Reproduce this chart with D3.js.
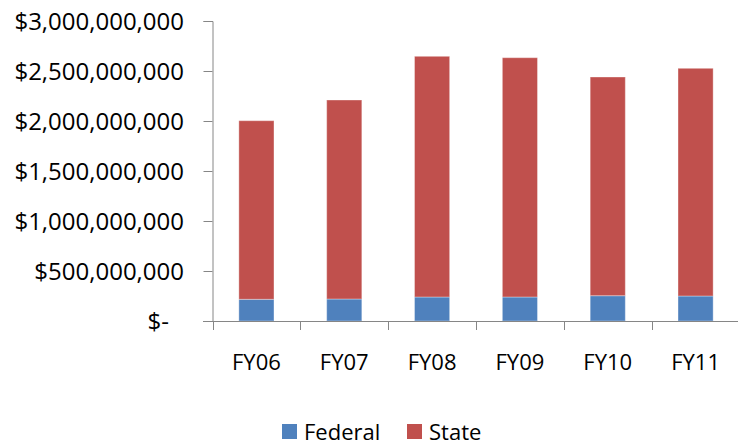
<!DOCTYPE html>
<html>
<head>
<meta charset="utf-8">
<script src="https://cdn.jsdelivr.net/npm/d3@7/dist/d3.min.js"></script>
<style>
  body { margin: 0; background: #fff; }
  svg text { font-family: "Open Sans", "Noto Sans", sans-serif; fill: #000; }
</style>
</head>
<body>
<div id="chart"></div>
<script>
// values
var years = ["FY06", "FY07", "FY08", "FY09", "FY10", "FY11"];
var federal = [217e6, 220e6, 240e6, 240e6, 253e6, 250e6];
var state = [1786e6, 1990e6, 2407e6, 2393e6, 2187e6, 2277e6];
var yTicks = [0, 5e8, 1e9, 1.5e9, 2e9, 2.5e9, 3e9];
var seriesNames = ["Federal", "State"];
var colors = ["#4F81BD", "#C0504D"];

var width = 738, height = 445;
var svg = d3.select("#chart").append("svg")
  .attr("width", width)
  .attr("height", height);

var x = d3.scaleBand()
  .domain(years)
  .range([212.5, 739.5])
  .paddingInner(0.6)
  .paddingOuter(0.3);

var y = d3.scaleLinear()
  .domain([0, 3e9])
  .range([321, 21]);

var fmt = d3.format(",");
var yLabel = function(d) { return d === 0 ? "$-" : "$" + fmt(d); };

// y axis
var yAxis = svg.append("g")
  .attr("transform", "translate(212.5,0)")
  .call(d3.axisLeft(y).tickValues(yTicks).tickSize(9).tickPadding(0).tickFormat(""));
yAxis.select(".domain").attr("stroke", "#868686");
yAxis.selectAll(".tick line").attr("stroke", "#868686");

svg.append("g").selectAll("text")
  .data(yTicks)
  .enter().append("text")
  .attr("x", function(d) { return d === 0 ? 169 : 184; })
  .attr("y", function(d) { return y(d); })
  .attr("dy", "0.36em")
  .attr("text-anchor", "end")
  .style("font-size", "24px")
  .text(yLabel);

// stacked bars
var rows = years.map(function(yr, i) { return { year: yr, Federal: federal[i], State: state[i] }; });
var stacked = d3.stack().keys(seriesNames)(rows);

svg.append("g").selectAll("g")
  .data(stacked)
  .enter().append("g")
  .attr("fill", function(d, i) { return colors[i]; })
  .selectAll("rect")
  .data(function(d) { return d; })
  .enter().append("rect")
  .attr("x", function(d) { return x(d.data.year); })
  .attr("y", function(d) { return y(d[1]); })
  .attr("width", x.bandwidth())
  .attr("height", function(d) { return y(d[0]) - y(d[1]); })
  .attr("stroke", "#fff")
  .attr("stroke-opacity", 0.35)
  .attr("stroke-width", 1);

// x axis
var step = x.step();
var xTickPos = years.map(function(d, i) { return 212.5 + i * step; });
svg.append("line")
  .attr("x1", 203).attr("x2", width)
  .attr("y1", y(0) + 0.5).attr("y2", y(0) + 0.5)
  .attr("stroke", "#868686");
svg.append("g").selectAll("line")
  .data(xTickPos)
  .enter().append("line")
  .attr("x1", function(d) { return Math.round(d) + 0.5; })
  .attr("x2", function(d) { return Math.round(d) + 0.5; })
  .attr("y1", y(0)).attr("y2", y(0) + 9)
  .attr("stroke", "#868686");

svg.append("g").selectAll("text")
  .data(years)
  .enter().append("text")
  .attr("x", function(d) { return x(d) + x.bandwidth() / 2; })
  .attr("y", 370)
  .attr("text-anchor", "middle")
  .style("font-size", "22px")
  .text(function(d) { return d; });

// legend
var legendX = [282, 407];
var legend = svg.append("g").selectAll("g")
  .data(seriesNames)
  .enter().append("g")
  .attr("transform", function(d, i) { return "translate(" + legendX[i] + ",424)"; });
legend.append("rect")
  .attr("width", 15).attr("height", 15)
  .attr("fill", function(d, i) { return colors[i]; });
legend.append("text")
  .attr("x", 22)
  .attr("y", 16)
  .style("font-size", "22px")
  .text(function(d) { return d; });
</script>
</body>
</html>
